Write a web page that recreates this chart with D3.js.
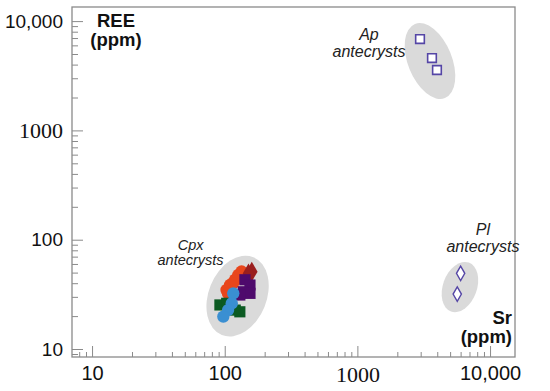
<!DOCTYPE html>
<html><head><meta charset="utf-8">
<script src="https://cdn.jsdelivr.net/npm/d3@7"></script>
<style>body{margin:0;background:#fff}svg{display:block}</style>
</head><body>
<svg id="c" width="550" height="391"></svg>
<script>
// ---- data ----
const xTickValues = [10, 100, 1000, 10000];
const xTickLabels = ["10", "100", "1000", "10,000"];
const yTickValues = [10, 100, 1000, 10000];
const yTickLabels = ["10", "100", "1000", "10,000"];
const xDomain = [7.06, 15420];
const yDomain = [8.45, 13460];

// Cpx antecrysts [Sr, REE]
const cpxOrangeCircles = [[134, 51], [127, 47.5], [120, 43], [115, 40], [110, 38.5], [103.5, 34.7], [106, 32.3]];
const cpxRedDiamonds = [[160, 51], [151, 49]];
const cpxPurpleSquares = [[142, 43], [155, 38.5], [138, 33.4], [155, 32.3], [130, 31.2]];
const cpxGreenSquares = [[92, 25.3], [103.5, 26.2], [130, 21.9], [120, 22.7]];
const cpxBlueCircles = [[116, 32.3], [113, 26.2], [106, 22.7], [97.6, 19.8]];
// Ap antecrysts
const apSquares = [[2965, 6850], [3650, 4590], [3980, 3570]];
// Pl antecrysts
const plDiamonds = [[6000, 49.3], [5660, 31.8]];

// group fields (grey ellipses) and labels
const groupNames = ["Cpx", "Ap", "Pl"];
const groupCenterSr = [125, 3525, 5930];
const groupCenterREE = [30.5, 4315, 36.9];

// ---- chart ----
const W = 550, H = 391;
const margin = {left: 72, right: 35, top: 7, bottom: 34};
const svg = d3.select("#c");
const x = d3.scaleLog().domain(xDomain).range([margin.left, W - margin.right]);
const y = d3.scaleLog().domain(yDomain).range([H - margin.bottom, margin.top]);

const sansFont = "Arial, 'Liberation Sans', Helvetica, sans-serif";
const serifFont = "'Times New Roman', 'Liberation Serif', serif";

// ellipses
const ellipseSpec = [
  {rx: 29, ry: 42, rot: 22},
  {rx: 22, ry: 40, rot: -22},
  {rx: 17, ry: 26, rot: 20}
];
groupNames.forEach((g, i) => {
  const cx = x(groupCenterSr[i]), cy = y(groupCenterREE[i]);
  svg.append("ellipse")
    .attr("cx", cx).attr("cy", cy)
    .attr("rx", ellipseSpec[i].rx).attr("ry", ellipseSpec[i].ry)
    .attr("transform", `rotate(${ellipseSpec[i].rot},${cx},${cy})`)
    .attr("fill", "#dadada");
});

// minor tick values
function logTicks(domain) {
  const out = [];
  for (let e = 0; e <= 5; e++) {
    for (let m = 1; m <= 9; m++) {
      const v = m * Math.pow(10, e);
      if (v >= domain[0] && v <= domain[1]) out.push(v);
    }
  }
  return out;
}
const isMajor = v => xTickValues.includes(v);

// x axis
const gx = svg.append("g").attr("transform", `translate(0,${H - margin.bottom})`)
  .call(d3.axisBottom(x).tickValues(logTicks(xDomain)).tickSizeInner(-11).tickSizeOuter(0).tickPadding(9)
    .tickFormat(v => { const k = xTickValues.indexOf(v); return k >= 0 ? xTickLabels[k] : ""; }));
gx.select(".domain").remove();
gx.selectAll(".tick line").attr("stroke", "#8a8a8a").attr("stroke-width", 1)
  .attr("y2", d => isMajor(d) ? -11 : -5);
gx.selectAll(".tick text").attr("fill", "#111")
  .style("font-family", d => d === 1000 ? serifFont : sansFont)
  .style("font-size", d => d === 1000 ? "22px" : "20px");

// y axis
const gy = svg.append("g").attr("transform", `translate(${margin.left},0)`)
  .call(d3.axisLeft(y).tickValues(logTicks(yDomain)).tickSizeInner(-11).tickSizeOuter(0).tickPadding(9)
    .tickFormat(v => { const k = yTickValues.indexOf(v); return k >= 0 ? yTickLabels[k] : ""; }));
gy.select(".domain").remove();
gy.selectAll(".tick line").attr("stroke", "#8a8a8a").attr("stroke-width", 1)
  .attr("x2", d => isMajor(d) ? 11 : 6);
gy.selectAll(".tick text").attr("fill", "#111")
  .style("font-family", d => d === 1000 ? serifFont : sansFont)
  .style("font-size", d => d === 1000 ? "22px" : "19px");

// frame
svg.append("rect")
  .attr("x", margin.left).attr("y", margin.top)
  .attr("width", W - margin.left - margin.right).attr("height", H - margin.top - margin.bottom)
  .attr("fill", "none").attr("stroke", "#8a8a8a").attr("stroke-width", 1.3);

// markers
function drawSymbols(data, type, size, fill, stroke, sw) {
  svg.append("g").selectAll("path").data(data).join("path")
    .attr("transform", d => `translate(${x(d[0])},${y(d[1])})`)
    .attr("d", d3.symbol().type(type).size(size))
    .attr("fill", fill).attr("stroke", stroke).attr("stroke-width", sw);
}
drawSymbols(cpxOrangeCircles, d3.symbolCircle, 125, "#e8461c", "none", 0);
drawSymbols(cpxRedDiamonds, d3.symbolDiamond, 115, "#9a1e1e", "none", 0);
drawSymbols(cpxPurpleSquares, d3.symbolSquare, 125, "#4e0a6c", "none", 0);
drawSymbols(cpxGreenSquares, d3.symbolSquare, 125, "#0b5a22", "none", 0);
drawSymbols(cpxBlueCircles, d3.symbolCircle, 120, "#3a8fd2", "none", 0);
drawSymbols(apSquares, d3.symbolSquare, 75, "#fff", "#5546a6", 1.6);
drawSymbols(plDiamonds, d3.symbolDiamond, 60, "#fff", "#5546a6", 1.4);

// group labels
const labelOffsets = [[-47, -31], [-61, -4], [23, -35]];
const labelSizes = [14.5, 16, 16];
groupNames.forEach((g, i) => {
  const lx = x(groupCenterSr[i]) + labelOffsets[i][0];
  const ly = y(groupCenterREE[i]) + labelOffsets[i][1];
  const fs = labelSizes[i];
  [g, "antecrysts"].forEach((s, k) => {
    svg.append("text")
      .attr("x", lx).attr("y", ly + (k - 1) * (fs + 1))
      .attr("text-anchor", "middle")
      .style("font-family", sansFont).style("font-style", "italic").style("font-size", fs + "px")
      .attr("fill", "#222").text(s);
  });
});

// axis titles
function title(lines, xx, y0, anchor) {
  lines.forEach((s, k) => svg.append("text").attr("text-anchor", anchor)
    .style("font-family", sansFont).style("font-weight", "bold").style("font-size", "18.5px").attr("fill", "#111")
    .attr("x", xx).attr("y", y0 + k * 19).text(s));
}
title(["REE", "(ppm)"], margin.left + 44, margin.top + 20, "middle");
title(["Sr", "(ppm)"], W - margin.right - 3, H - margin.bottom - 33, "end");
</script>
</body></html>
